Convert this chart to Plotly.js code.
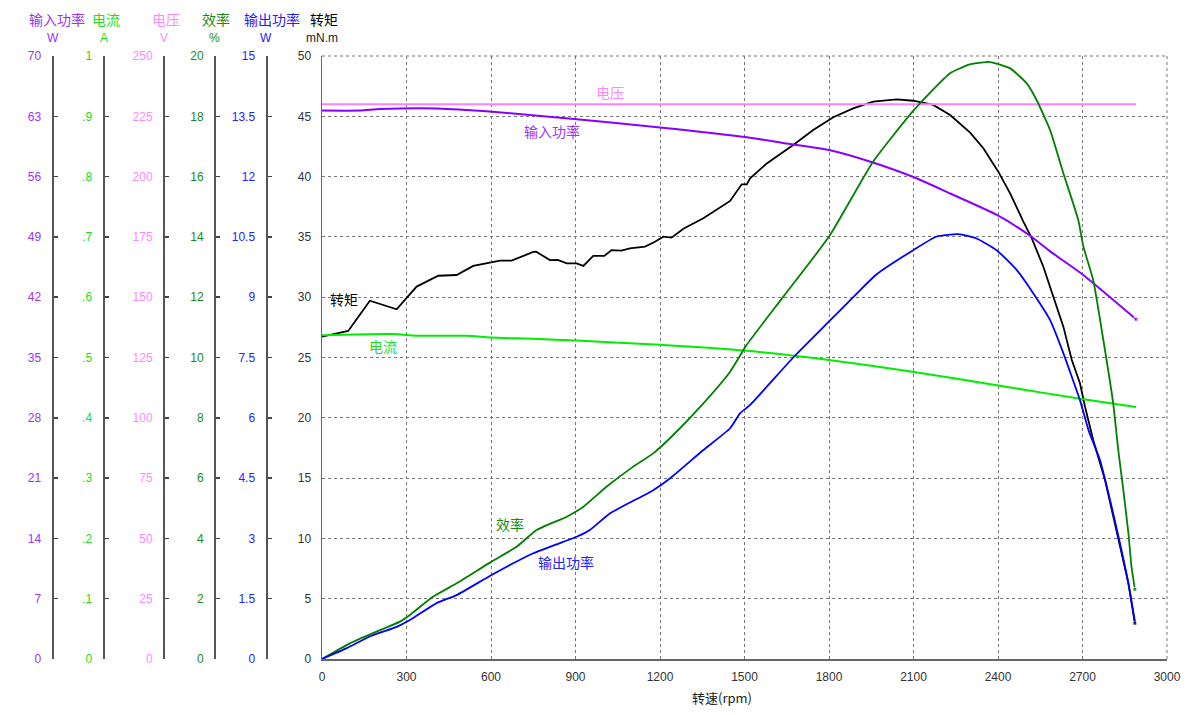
<!DOCTYPE html>
<html>
<head>
<meta charset="utf-8">
<script src="https://cdn.plot.ly/plotly-3.0.1.min.js"></script>
<style>html,body{margin:0;padding:0;background:#fff;}#chart{width:1200px;height:715px;}</style>
</head>
<body>
<div id="chart"></div>
<script>
// ---- data ----
const rpmVolt = [0, 2890];
const voltage = [230, 230];

const rpmIn = [0, 135, 206, 408, 604, 905, 1200, 1509, 1662, 1800, 1950, 2102, 2230, 2396, 2514, 2585, 2698, 2890];
const inputPower = [63.67, 63.67, 63.84, 63.91, 63.53, 62.65, 61.71, 60.56, 59.78, 59.09, 57.7, 55.92, 54.04, 51.55, 49.13, 47.32, 44.69, 39.44];

const rpmCur = [0, 250, 337, 514, 600, 750, 905, 1200, 1509, 1800, 2102, 2396, 2698, 2890];
const current = [0.537, 0.539, 0.536, 0.536, 0.533, 0.531, 0.528, 0.521, 0.511, 0.496, 0.476, 0.454, 0.431, 0.418];

const rpmEff = [0, 99, 194, 277, 312, 395, 478, 602, 691, 762, 869, 928, 1011, 1105, 1176, 1247, 1354, 1449, 1508, 1638, 1800, 1957, 2102, 2230, 2300, 2348, 2372, 2443, 2502, 2537, 2585, 2632, 2685, 2703, 2738, 2774, 2809, 2827, 2845, 2863, 2874, 2886];
const efficiency = [0, 0.52, 0.91, 1.24, 1.46, 2.07, 2.51, 3.23, 3.72, 4.28, 4.72, 5.05, 5.72, 6.38, 6.82, 7.43, 8.48, 9.53, 10.42, 12.02, 14.01, 16.5, 18.21, 19.43, 19.72, 19.79, 19.8, 19.59, 19.09, 18.54, 17.54, 16.11, 14.56, 13.68, 12.57, 10.58, 8.48, 6.93, 5.6, 4.17, 3.06, 2.31];

const rpmOut = [0, 88, 170, 265, 312, 407, 478, 602, 750, 904, 951, 1022, 1176, 1235, 1354, 1449, 1484, 1520, 1673, 1792, 1886, 1969, 2099, 2182, 2259, 2324, 2395, 2466, 2525, 2585, 2632, 2662, 2691, 2721, 2762, 2798, 2833, 2863, 2886];
const outputPower = [0, 0.27, 0.56, 0.8, 0.97, 1.39, 1.59, 2.09, 2.63, 3.04, 3.21, 3.62, 4.2, 4.49, 5.2, 5.74, 6.11, 6.32, 7.5, 8.34, 9.0, 9.57, 10.17, 10.51, 10.57, 10.46, 10.17, 9.68, 9.1, 8.43, 7.61, 7.02, 6.44, 5.7, 4.95, 3.95, 2.88, 1.88, 0.93];

const rpmTorque = [0, 40, 93, 170, 265, 336, 413, 478, 537, 632, 673, 750, 760, 809, 837, 869, 904, 928, 963, 1002, 1028, 1063, 1093, 1147, 1182, 1212, 1241, 1283, 1354, 1449, 1490, 1508, 1520, 1579, 1673, 1744, 1815, 1886, 1957, 2040, 2099, 2170, 2230, 2301, 2348, 2401, 2443, 2490, 2520, 2561, 2596, 2632, 2662, 2691, 2709, 2738, 2780, 2809, 2839, 2863, 2886];
const torque = [26.73, 26.95, 27.2, 29.71, 29.0, 30.88, 31.78, 31.84, 32.59, 33.03, 33.03, 33.75, 33.78, 33.08, 33.1, 32.8, 32.8, 32.59, 33.42, 33.42, 33.91, 33.87, 34.05, 34.2, 34.6, 35.02, 34.94, 35.68, 36.54, 37.98, 39.36, 39.36, 39.86, 41.09, 42.62, 43.86, 44.92, 45.66, 46.21, 46.41, 46.29, 45.94, 45.11, 43.64, 42.35, 40.41, 38.61, 36.26, 34.88, 32.53, 30.04, 27.56, 24.79, 22.86, 20.92, 18.16, 14.84, 11.8, 8.76, 6.27, 2.96];

// ---- tick labels ----
const xTicks = [0, 300, 600, 900, 1200, 1500, 1800, 2100, 2400, 2700, 3000];
const torqueTicks = [0, 5, 10, 15, 20, 25, 30, 35, 40, 45, 50];
const inTicks = [0, 7, 14, 21, 28, 35, 42, 49, 56, 63, 70];
const curTicks = [0, 0.1, 0.2, 0.3, 0.4, 0.5, 0.6, 0.7, 0.8, 0.9, 1];
const curTickText = ['0', '.1', '.2', '.3', '.4', '.5', '.6', '.7', '.8', '.9', '1'];
const voltTicks = [0, 25, 50, 75, 100, 125, 150, 175, 200, 225, 250];
const effTicks = [0, 2, 4, 6, 8, 10, 12, 14, 16, 18, 20];
const outTicks = [0, 1.5, 3, 4.5, 6, 7.5, 9, 10.5, 12, 13.5, 15];
const outTickText = ['0', '1.5', '3', '4.5', '6', '7.5', '9', '10.5', '12', '13.5', '15'];

// ---- colours ----
const cIn = '#8800ff', cCur = '#00ee00', cVolt = '#ff80ff', cEff = '#008000', cOut = '#0000ff', cTq = '#000000';
const cInT = '#9933ff', cCurT = '#22dd22', cVoltT = '#ff88ff', cEffT = '#1a8a1a', cOutT = '#2222ff';

const W = 1200;
const px = v => v / W;
const font = 'Liberation Sans, Arial, sans-serif';
const cjk = 'Noto Sans CJK SC, sans-serif';

function endMarker(n, size) { const s = new Array(n).fill(0); s[n - 1] = size; return s; }

const traces = [
  {x: rpmVolt, y: voltage, yaxis: 'y4', mode: 'lines', line: {color: cVolt, width: 2}, name: '电压'},
  {x: rpmCur, y: current, yaxis: 'y3', mode: 'lines', line: {color: cCur, width: 2, shape: 'spline', smoothing: 0.6}, name: '电流'},
  {x: rpmIn, y: inputPower, yaxis: 'y2', mode: 'lines+markers', line: {color: cIn, width: 2, shape: 'spline', smoothing: 0.6},
   marker: {symbol: 'square', size: endMarker(rpmIn.length, 4), color: cIn}, name: '输入功率'},
  {x: rpmEff, y: efficiency, yaxis: 'y5', mode: 'lines+markers', line: {color: cEff, width: 1.8, shape: 'spline', smoothing: 0.5},
   marker: {symbol: 'square', size: endMarker(rpmEff.length, 4), color: cEff}, name: '效率'},
  {x: rpmOut, y: outputPower, yaxis: 'y6', mode: 'lines', line: {color: cOut, width: 1.8, shape: 'spline', smoothing: 0.5}, name: '输出功率'},
  {x: rpmTorque, y: torque, yaxis: 'y', mode: 'lines+markers', line: {color: cTq, width: 1.8},
   marker: {symbol: 'square', size: endMarker(rpmTorque.length, 4), color: cTq}, name: '转矩'}
];

function sideAxis(pos, range, vals, text, color) {
  const a = {
    overlaying: 'y', anchor: 'free', position: px(pos), side: 'left',
    range: range, tickmode: 'array', tickvals: vals,
    showgrid: false, zeroline: false, showline: true, linecolor: '#555', linewidth: 2,
    ticks: 'inside', ticklen: 4, tickwidth: 1.5, tickcolor: '#444',
    ticklabelstandoff: 8,
    tickfont: {family: font, size: 12, color: color}, fixedrange: true
  };
  if (text) a.ticktext = text;
  return a;
}

const topPx = 56, botPx = 56, plotH = 715 - topPx - botPx;
const py = p => 1 + (topPx - p) / plotH;

const header = [
  ['输入功率', 57, cInT], ['电流', 106, cCurT], ['电压', 166, cVoltT], ['效率', 216, cEffT], ['输出功率', 272, cOutT], ['转矩', 324, '#000']
];
const units = [
  ['W', 52.5, cInT], ['A', 104, cCurT], ['V', 163.5, cVoltT], ['%', 214, cEffT], ['W', 266, cOutT], ['mN.m', 322, '#222']
];
const annotations = [];
header.forEach(h => annotations.push({xref: 'paper', yref: 'paper', x: px(h[1]), y: py(19), text: h[0], showarrow: false, xanchor: 'center', yanchor: 'middle', font: {family: cjk, size: 14, color: h[2]}}));
units.forEach(u => annotations.push({xref: 'paper', yref: 'paper', x: px(u[1]), y: py(38), text: u[0], showarrow: false, xanchor: 'center', yanchor: 'middle', font: {family: font, size: 12, color: u[2]}}));
const inLabels = [
  ['电压', 1022, 47.0, cVoltT], ['输入功率', 817, 43.8, cInT], ['转矩', 78, 29.85, '#000'],
  ['电流', 217, 25.95, cCurT], ['效率', 667, 11.2, cEffT], ['输出功率', 866, 8.04, cOutT]
];
inLabels.forEach(l => annotations.push({xref: 'x', yref: 'y', x: l[1], y: l[2], text: l[0], showarrow: false, xanchor: 'center', yanchor: 'middle', font: {family: cjk, size: 14, color: l[3]}}));
annotations.push({xref: 'paper', yref: 'paper', x: px(722), y: py(697), text: '转速(rpm)', showarrow: false, xanchor: 'center', yanchor: 'middle', font: {family: cjk, size: 13, color: '#222'}});

// dashed frame on the top and right edges of the plot area
const shapes = [
  {type: 'line', xref: 'paper', yref: 'paper', x0: px(1167), x1: px(1167), y0: 0, y1: 1, line: {color: '#777', width: 1, dash: '3px,3px'}},
  {type: 'line', xref: 'paper', yref: 'paper', x0: px(322), x1: px(1167), y0: 1, y1: 1, line: {color: '#777', width: 1, dash: '3px,3px'}}
];

const layout = {
  width: 1200, height: 715,
  margin: {l: 0, r: 0, t: topPx, b: botPx, pad: 0},
  paper_bgcolor: '#fff', plot_bgcolor: '#fff',
  showlegend: false,
  xaxis: {
    domain: [px(322), px(1167)], range: [0, 3000], tickmode: 'array', tickvals: xTicks,
    showgrid: true, gridcolor: '#777', griddash: '3px,3px', gridwidth: 1,
    zeroline: false, showline: true, linecolor: '#666', linewidth: 1.5, ticks: '',
    ticklabelstandoff: 6, tickfont: {family: font, size: 12, color: '#333'}, fixedrange: true
  },
  yaxis: {
    range: [0, 50], tickmode: 'array', tickvals: torqueTicks,
    showgrid: true, gridcolor: '#777', griddash: '3px,3px', gridwidth: 1,
    zeroline: false, showline: true, linecolor: '#666', linewidth: 1.5, ticks: '',
    ticklabelstandoff: 7, tickfont: {family: font, size: 12, color: '#333'}, fixedrange: true
  },
  yaxis2: sideAxis(52.5, [0, 70], inTicks, null, cInT),
  yaxis3: sideAxis(103.5, [0, 1], curTicks, curTickText, cCurT),
  yaxis4: sideAxis(164, [0, 250], voltTicks, null, cVoltT),
  yaxis5: sideAxis(215, [0, 20], effTicks, null, cEffT),
  yaxis6: sideAxis(266.5, [0, 15], outTicks, outTickText, cOutT),
  shapes: shapes,
  annotations: annotations
};

Plotly.newPlot('chart', traces, layout, {displayModeBar: false, staticPlot: true});
</script>
</body>
</html>
